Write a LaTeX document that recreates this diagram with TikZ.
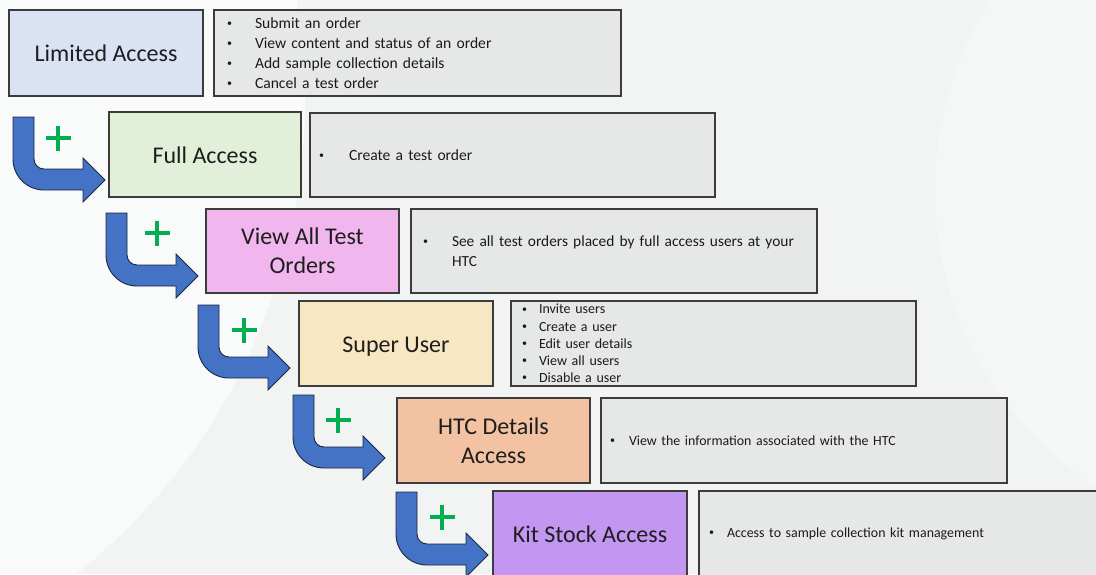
\documentclass[tikz,border=0pt]{standalone}
\usepackage{fontspec}
\setmainfont{Carlito}
\definecolor{bgcol}{HTML}{F2F3F3}
\definecolor{boxline}{HTML}{3C3C3C}
\definecolor{descfill}{HTML}{E6E7E7}
\definecolor{titletext}{HTML}{1E1E1E}
\definecolor{desctext}{HTML}{1A1A1A}
\definecolor{plusgreen}{HTML}{00B050}
\definecolor{arrowblue}{HTML}{4472C4}
\definecolor{arrowline}{HTML}{1A2740}
\definecolor{laFill}{HTML}{DAE3F3}
\definecolor{faFill}{HTML}{E2F0D9}
\definecolor{vtFill}{HTML}{F2B6EF}
\definecolor{suFill}{HTML}{F7E7C2}
\definecolor{htFill}{HTML}{F2C2A3}
\definecolor{ksFill}{HTML}{C396F2}
\newcommand{\bulw}[1]{\makebox[#1][l]{\raisebox{0.13em}{\fontsize{10}{10}\selectfont\textbullet}}}
\tikzset{
  pics/bentarrow/.style={code={
    \path[barrow] (0,0) -- (21,0) -- (21,42)
      arc[start angle=180,end angle=270,radius=10pt]
      -- (70,52) -- (70,41) -- (92,63) -- (70,85) -- (70,73) -- (31,73)
      arc[start angle=270,end angle=180,radius=31pt] -- cycle;
  }}
}
\begin{document}
\begin{tikzpicture}[x=1pt,y=-1pt,
  every node/.style={inner sep=0pt, outer sep=0pt},
  titlebox/.style={draw=boxline, line width=1.2pt, anchor=north west,
    align=center, text=titletext, font=\fontsize{24}{29}\selectfont},
  descbox/.style={draw=boxline, line width=1.2pt, fill=descfill,
    anchor=north west, align=left, text=desctext},
  plussign/.style={draw=plusgreen, line width=4pt},
  barrow/.style={fill=arrowblue, draw=arrowline, line width=0.9pt, line join=miter}
]
\useasboundingbox (0,0) rectangle (1096,574);
\begin{scope}
\clip (0,0) rectangle (1096,574);
\fill[bgcol] (0,0) rectangle (1096,574);
\fill[white, opacity=0.6] (-300,100) circle[radius=605pt];
\fill[white, opacity=0.25] (1290,190) circle[radius=355pt];

% title boxes
\node[titlebox, fill=laFill, minimum width=194pt, minimum height=86pt] (la) at (9,10) {Limited Access};
\node[titlebox, fill=faFill, minimum width=192pt, minimum height=85pt] (fa) at (109,112) {\raisebox{-1pt}[\height][\depth]{Full Access}};
\node[titlebox, fill=vtFill, minimum width=193pt, minimum height=84pt] (vt) at (206,209) {View All Test\\Orders};
\node[titlebox, fill=suFill, minimum width=194pt, minimum height=85pt] (su) at (299,301) {\raisebox{-3pt}[\height][\depth]{Super User}};
\node[titlebox, fill=htFill, minimum width=193pt, minimum height=85pt] (ht) at (397,398) {HTC Details\\Access};
\node[titlebox, fill=ksFill, minimum width=194pt, minimum height=86pt] (ks) at (493,491) {Kit Stock Access};

% description boxes
\node[descbox, minimum width=407pt, minimum height=86pt, inner xsep=13pt, text width=381pt,
  font=\fontsize{15.6}{20}\selectfont] (d1) at (214,10)
  {\bulw{28pt}Submit an order\\
   \bulw{28pt}View content and status of an order\\
   \bulw{28pt}Add sample collection details\\
   \bulw{28pt}Cancel a test order};
\node[descbox, minimum width=405pt, minimum height=84pt, inner xsep=9pt, text width=387pt,
  font=\fontsize{15.6}{20}\selectfont] (d2) at (310,113)
  {\bulw{30pt}Create a test order};
\node[descbox, minimum width=406pt, minimum height=84pt, inner xsep=12pt, text width=382pt,
  font=\fontsize{15.4}{20}\selectfont] (d3) at (411,209)
  {\bulw{29pt}See all test orders placed by full access users at your\\
   \hspace*{29pt}HTC};
\node[descbox, minimum width=405pt, minimum height=85pt, inner xsep=11pt, text width=383pt,
  font=\fontsize{14}{17.2}\selectfont] (d4) at (511,301)
  {\bulw{17pt}Invite users\\
   \bulw{17pt}Create a user\\
   \bulw{17pt}Edit user details\\
   \bulw{17pt}View all users\\
   \bulw{17pt}Disable a user};
\node[descbox, minimum width=406pt, minimum height=85pt, inner xsep=9pt, text width=388pt,
  font=\fontsize{13.9}{17}\selectfont] (d5) at (601,398)
  {\bulw{19pt}View the information associated with the HTC};
\node[descbox, minimum width=410pt, minimum height=86pt, inner xsep=10pt, text width=390pt,
  font=\fontsize{13.9}{17}\selectfont] (d6) at (699,491)
  {\bulw{18pt}Access to sample collection kit management};

% bent arrows
\pic at (13,117) {bentarrow};
\pic at (106,213) {bentarrow};
\pic at (198,305) {bentarrow};
\pic at (293,395) {bentarrow};
\pic at (396,492) {bentarrow};

% plus signs
\foreach \px/\py in {58/138, 157/233, 244/330, 338/420, 442/517}{
  \draw[plussign] (\px-12.5,\py) -- (\px+12.5,\py);
  \draw[plussign] (\px,\py-12.5) -- (\px,\py+12.5);
}
\end{scope}
\end{tikzpicture}
\end{document}
